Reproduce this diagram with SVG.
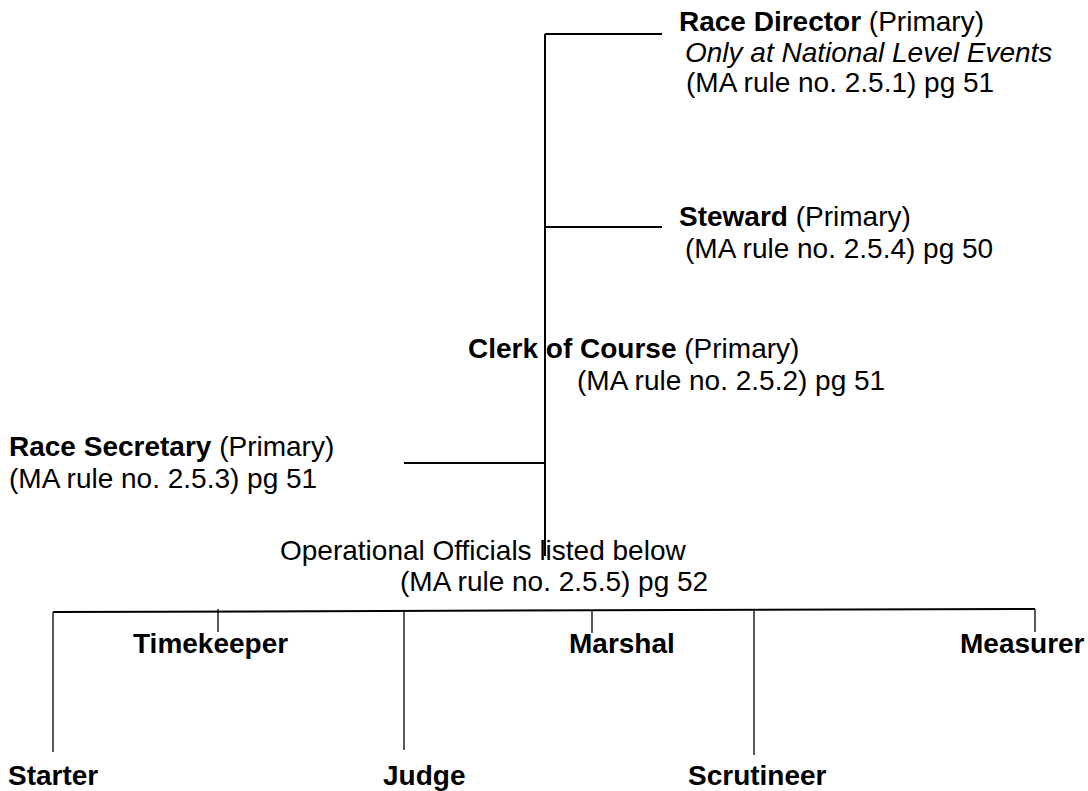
<svg xmlns="http://www.w3.org/2000/svg" width="1088" height="791" viewBox="0 0 1088 791">
<style>
text{font-family:"Liberation Sans",Arial,sans-serif;font-size:28px;fill:#000}
.b{font-weight:bold}
.i{font-style:italic}
.c line{stroke:#000;stroke-width:2}
.c .t{stroke-width:1.3}
</style>
<rect width="1088" height="791" fill="#fff"/>
<g class="c" id="connectors">
<line x1="545" y1="34" x2="545" y2="556"/>
<line x1="545" y1="34" x2="662" y2="34"/>
<line x1="545" y1="227" x2="662" y2="227"/>
<line x1="404" y1="463" x2="545" y2="463"/>
<line x1="53" y1="612" x2="1035" y2="609"/>
<line class="t" x1="53" y1="612" x2="53" y2="752"/>
<line class="t" x1="218" y1="609" x2="218" y2="632"/>
<line class="t" x1="404" y1="611" x2="404" y2="750"/>
<line class="t" x1="592" y1="611" x2="592" y2="633"/>
<line class="t" x1="754" y1="611" x2="754" y2="755"/>
<line class="t" x1="1035" y1="609" x2="1035" y2="632"/>
</g>
<g id="race-director">
<text x="679" y="31"><tspan class="b">Race Director</tspan> (Primary)</text>
<text x="685" y="62" class="i">Only at National Level Events</text>
<text x="686" y="92">(MA rule no. 2.5.1) pg 51</text>
</g>
<g id="steward">
<text x="679" y="226"><tspan class="b">Steward</tspan> (Primary)</text>
<text x="685" y="258">(MA rule no. 2.5.4) pg 50</text>
</g>
<g id="clerk">
<text x="468" y="358"><tspan class="b">Clerk of Course</tspan> (Primary)</text>
<text x="577" y="390">(MA rule no. 2.5.2) pg 51</text>
</g>
<g id="race-secretary">
<text x="9" y="456"><tspan class="b">Race Secretary</tspan> (Primary)</text>
<text x="9" y="488">(MA rule no. 2.5.3) pg 51</text>
</g>
<g id="operational">
<text x="280" y="560">Operational Officials listed below</text>
<text x="400" y="591">(MA rule no. 2.5.5) pg 52</text>
</g>
<g id="timekeeper"><text class="b" x="133" y="653">Timekeeper</text></g>
<g id="marshal"><text class="b" x="569" y="653">Marshal</text></g>
<g id="measurer"><text class="b" x="960" y="653">Measurer</text></g>
<g id="starter"><text class="b" x="8" y="785">Starter</text></g>
<g id="judge"><text class="b" x="383" y="785">Judge</text></g>
<g id="scrutineer"><text class="b" x="688" y="785">Scrutineer</text></g>
</svg>
